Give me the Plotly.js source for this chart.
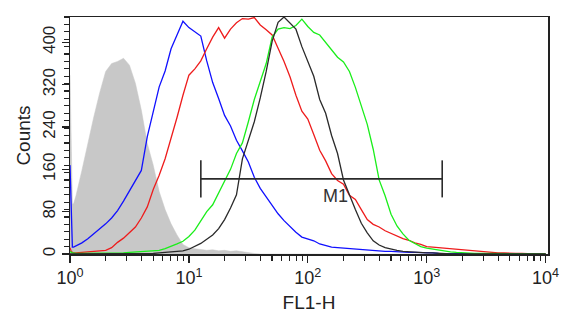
<!DOCTYPE html>
<html>
<head>
<meta charset="utf-8">
<script src="https://cdn.plot.ly/plotly-3.0.1.min.js"></script>
<style>html,body{margin:0;padding:0;background:#fff;}#chart{width:564px;height:327px;}</style>
</head>
<body>
<div id="chart"></div>
<script>
// FL1-H channel positions (log10 of FL1-H)
const fl1Log = [0, 0.01, 0.02, 0.03,
  0.05, 0.10, 0.15, 0.20, 0.25, 0.30, 0.35, 0.40, 0.45, 0.50,
  0.55, 0.60, 0.65, 0.70, 0.75, 0.80, 0.85, 0.90, 0.95, 1.00,
  1.05, 1.10, 1.15, 1.20, 1.25, 1.30, 1.35, 1.40, 1.45, 1.50,
  1.55, 1.60, 1.65, 1.70, 1.75, 1.80, 1.85, 1.90, 1.95, 2.00,
  2.05, 2.10, 2.15, 2.20, 2.25, 2.30, 2.35, 2.40, 2.45, 2.50,
  2.55, 2.60, 2.65, 2.70, 2.75, 2.80, 2.85, 2.90, 2.95, 3.00,
  3.05, 3.10, 3.15, 3.20, 3.25, 3.30, 3.35, 3.40, 3.45, 3.50,
  3.55, 3.60, 3.65, 3.70, 3.75, 3.80, 3.85, 3.90, 3.95, 4.00];

const grayCounts = [338, 190, 95, 95,
  110, 158, 212, 259, 305, 345, 360, 364, 370, 357,
  323, 272, 209, 168, 118, 84, 57, 36, 18, 12,
  10, 8, 7, 8, 6, 7, 5, 6, 4, 2,
  1, 0, 0, 0, 0, 0, 0, 0, 0, 0,
  0, 0, 0, 0, 0, 0, 0, 0, 0, 0,
  0, 0, 0, 0, 0, 0, 0, 0, 0, 0,
  0, 0, 0, 0, 0, 0, 0, 0, 0, 0,
  0, 0, 0, 0, 0, 0, 0, 0, 0, 0];

const blueCounts = [168, 89, 13, 13,
  15, 21, 29, 38, 48, 57, 68, 82, 100, 120,
  139, 158, 222, 270, 316, 346, 388, 414, 440, 428,
  420, 412, 365, 324, 294, 262, 242, 215, 195, 174,
  145, 124, 108, 92, 76, 63, 51, 41, 32, 28,
  25, 19, 16, 13, 12, 11, 10, 9, 8, 7,
  6, 6, 5, 5, 4, 4, 3, 3, 3, 2,
  2, 1, 1, 1, 0, 0, 0, 0, 0, 0,
  0, 0, 0, 0, 0, 0, 0, 0, 0, 0];

const redCounts = [12, 5, 3, 2,
  2, 3, 3, 4, 5, 7, 12, 22, 30, 40,
  51, 68, 89, 122, 149, 180, 218, 258, 300, 338,
  350, 365, 388, 410, 428, 408, 425, 437, 445, 444,
  447, 433, 424, 414, 389, 364, 335, 300, 270, 255,
  226, 196, 176, 152, 139, 132, 111, 103, 84, 65,
  56, 51, 44, 39, 33, 29, 26, 21, 18, 14,
  13, 12, 10, 9, 8, 7, 6, 5, 4, 3,
  3, 2, 2, 1, 1, 1, 0, 0, 0, 0];

const greenCounts = [5, 3, 2, 2,
  1, 1, 1, 1, 1, 1, 1, 2, 2, 3,
  4, 4, 5, 6, 7, 10, 14, 19, 24, 33,
  45, 62, 80, 93, 115, 135, 160, 190, 210, 250,
  292, 326, 360, 410, 425, 428, 426, 432, 444, 430,
  419, 414, 400, 384, 372, 363, 345, 315, 280, 245,
  198, 140, 110, 75, 53, 38, 26, 20, 14, 11,
  9, 7, 5, 4, 3, 2, 2, 1, 1, 1,
  1, 0, 1, 0, 0, 0, 0, 0, 0, 0];

const blackCounts = [0, 0, 0, 0,
  0, 0, 0, 0, 0, 0, 0, 0, 0, 0,
  0, 0, 0, 1, 2, 3, 4, 5, 6, 9,
  15, 20, 28, 36, 48, 65, 87, 112, 180, 215,
  250, 295, 345, 402, 438, 448, 436, 425, 392, 365,
  336, 292, 266, 224, 190, 140, 110, 84, 58, 40,
  25, 17, 12, 9, 7, 5, 4, 3, 3, 2,
  2, 1, 1, 0, 0, 0, 0, 0, 0, 0,
  0, 0, 0, 0, 0, 0, 0, 0, 0, 0];

// Marker M1 gate
const m1Bounds = [12.6, 1350];
const m1Level = 142;
const m1CapLow = 107;
const m1CapHigh = 177;
const m1Label = 'M1';
const m1LabelPos = [172, 109];

// Axis ticks
const xTickVals = [1, 10, 100, 1000, 10000];
const xTickText = ['10<sup>0</sup>', '10<sup>1</sup>', '10<sup>2</sup>', '10<sup>3</sup>', '10<sup>4</sup>'];
const xMinorVals = [2,3,4,5,6,7,8,9,20,30,40,50,60,70,80,90,200,300,400,500,600,700,800,900,2000,3000,4000,5000,6000,7000,8000,9000];
const yTickVals = [0, 80, 160, 240, 320, 400];
const yMinorVals = [14,28,42,56,70,84,98,112,126,140,154,168,182,196,210,224,238,252,266,280,294,308,322,336,350,364,378,392,406,420,434,448];

const fl1 = fl1Log.map(v => Math.pow(10, v));

function lineTrace(y, color) {
  return {x: fl1, y: y, type: 'scatter', mode: 'lines',
    line: {color: color, width: 1.3}, hoverinfo: 'skip', showlegend: false};
}

const traces = [
  {x: fl1, y: grayCounts, type: 'scatter', mode: 'lines', fill: 'tozeroy',
   fillcolor: '#c8c8c8', line: {color: '#c8c8c8', width: 0.5}, showlegend: false, hoverinfo: 'skip'},
  lineTrace(blueCounts, '#1010ff'),
  lineTrace(redCounts, '#ee1c1c'),
  lineTrace(greenCounts, '#1aee1a'),
  lineTrace(blackCounts, '#2a2a2a'),
  {x: [m1Bounds[0], m1Bounds[0], null, m1Bounds[0], m1Bounds[1], null, m1Bounds[1], m1Bounds[1]],
   y: [m1CapLow, m1CapHigh, null, m1Level, m1Level, null, m1CapLow, m1CapHigh],
   type: 'scatter', mode: 'lines', line: {color: '#2a2a2a', width: 1.6}, showlegend: false, hoverinfo: 'skip'}
];

const fam = 'Liberation Sans, Arial, sans-serif';

const layout = {
  width: 564, height: 327,
  margin: {l: 70, r: 16, t: 17, b: 73},
  paper_bgcolor: '#ffffff', plot_bgcolor: '#ffffff',
  showlegend: false,
  xaxis: {
    type: 'log', range: [0, 4.02],
    tickmode: 'array', tickvals: xTickVals, ticktext: xTickText,
    ticks: 'outside', ticklen: 7, tickwidth: 1.3, tickcolor: '#222',
    minor: {tickmode: 'array', tickvals: xMinorVals, ticks: 'outside', ticklen: 5, tickwidth: 1.2, tickcolor: '#222', showgrid: false},
    showline: true, linecolor: '#222', linewidth: 1.5, mirror: true,
    showgrid: false, zeroline: false,
    tickfont: {family: fam, size: 18, color: '#222'},
    title: {text: 'FL1-H', font: {family: fam, size: 19, color: '#222'}, standoff: 8}
  },
  yaxis: {
    range: [0, 448],
    tickmode: 'array', tickvals: yTickVals,
    tickangle: -90,
    ticks: 'outside', ticklen: 7, tickwidth: 1.3, tickcolor: '#222',
    minor: {tickmode: 'array', tickvals: yMinorVals, ticks: 'outside', ticklen: 5, tickwidth: 1.2, tickcolor: '#222', showgrid: false},
    showline: true, linecolor: '#222', linewidth: 1.5, mirror: true,
    showgrid: false, zeroline: false,
    tickfont: {family: fam, size: 17, color: '#222'},
    title: {text: 'Counts', font: {family: fam, size: 19, color: '#222'}, standoff: 4}
  },
  annotations: [{
    x: Math.log10(m1LabelPos[0]), y: m1LabelPos[1], xref: 'x', yref: 'y',
    text: m1Label, showarrow: false,
    font: {family: fam, size: 18, color: '#333'}
  }]
};

Plotly.newPlot('chart', traces, layout, {displayModeBar: false, staticPlot: true});
</script>
</body>
</html>
